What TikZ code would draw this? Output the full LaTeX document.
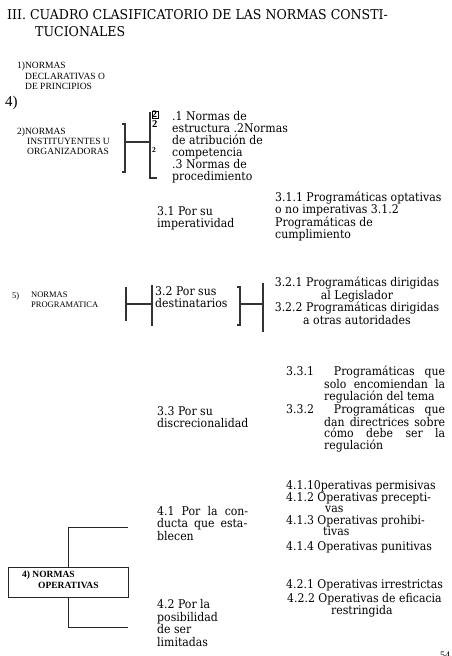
\documentclass[tikz,border=0pt]{standalone}
\usepackage{fontspec}
\newfontfamily\bodyf[FakeStretch=0.91]{DejaVu Serif}
\newfontfamily\titlef[FakeStretch=0.93]{DejaVu Serif}
\newfontfamily\timesf{Liberation Serif}
\tikzset{
  body/.style={font=\bodyf\fontsize{12}{12}\selectfont, align=left, inner sep=0pt, anchor=north west},
  line/.style={font=\bodyf\fontsize{12}{12}\selectfont, inner sep=0pt, anchor=base west},
  bodyc/.style={font=\bodyf\fontsize{12}{12.4}\selectfont, align=center, inner sep=0pt, anchor=north},
  small/.style={font=\timesf\fontsize{9.5}{10.5}\selectfont, align=left, inner sep=0pt, anchor=north west},
  ttl/.style={font=\titlef\fontsize{13.5}{17.5}\selectfont, align=left, inner sep=0pt, anchor=north west},
  brk/.style={line width=1.4pt, draw=black!80},
  conn/.style={line width=0.9pt, draw=black!85},
}
\newcommand{\spr}[2]{\makebox[#1pt][s]{#2}}
\begin{document}
\begin{tikzpicture}[x=1pt,y=-1pt]
\useasboundingbox (0,0) rectangle (451,656);
% title
\node[ttl] (title) at (7,9) {III. CUADRO CLASIFICATORIO DE LAS NORMAS CONSTI-\\\hspace*{28pt}TUCIONALES};
% 1)
\node[small] (decl) at (17,62) {1)NORMAS\\\hspace*{8pt}DECLARATIVAS O\\\hspace*{8pt}DE PRINCIPIOS};
\node[font=\timesf\fontsize{15}{15}\selectfont, inner sep=0pt, anchor=north west] (four) at (5,96) {4)};
% 2)
\node[small, font=\timesf\fontsize{9.5}{10}\selectfont] (instit) at (17,128) {2)NORMAS\\\hspace*{10pt}INSTITUYENTES U\\\hspace*{10pt}ORGANIZADORAS};
\coordinate (b1t) at (125,124); \coordinate (b1b) at (125,172);
\coordinate (b1m) at (125,142); \coordinate (b2m) at (150,142);
\coordinate (b2t) at (150,112); \coordinate (b2b) at (150,178);
\coordinate (b2e) at (157,178);
\draw[brk] ([xshift=-3pt]b1t) -- (b1t) -- (b1b) -- ([xshift=-3pt]b1b);
\draw[brk] (b1m) -- (b2m);
\draw[brk] (b2t) -- (b2b) -- (b2e);
\node[draw, inner sep=0.5pt, font=\bfseries\timesf\fontsize{10}{10}\selectfont, anchor=north west] (g1) at (151.5,110.5) {2};
\node[inner sep=0pt, font=\bfseries\timesf\fontsize{10.5}{10.5}\selectfont, anchor=north west] (g2) at (152,120) {2};
\node[inner sep=0pt, font=\bfseries\timesf\fontsize{7.5}{7.5}\selectfont, anchor=north west] (g3) at (152,147) {2};
\node[body] (sub2) at (172,111) {.1 Normas de\\estructura .2Normas\\de atribución de\\competencia\\.3 Normas de\\procedimiento};
% 3.1
\node[body] (p31) at (157,206) {3.1 Por su\\imperatividad};
\node[body] (p31x) at (275,192) {3.1.1 Programáticas optativas\\o no imperativas 3.1.2\\Programáticas de\\cumplimiento};
% 5)
\node[small, font=\timesf\fontsize{8.5}{9.5}\selectfont] (five) at (12,292) {5)};
\node[small, font=\timesf\fontsize{8.5}{9.5}\selectfont] (prog) at (31,292) {NORMAS\\PROGRAMATICA};
% 3.2 brackets
\coordinate (c1t) at (126,287); \coordinate (c1b) at (126,321);
\coordinate (c1m) at (126,304); \coordinate (c2m) at (152,304);
\coordinate (c2t) at (152,285); \coordinate (c2b) at (152,326);
\draw[brk] (c1t) -- (c1b);
\draw[brk] (c1m) -- (c2m);
\draw[brk] (c2t) -- (c2b);
\node[body] (p32) at (155,286) {3.2 Por sus\\destinatarios};
\coordinate (d1t) at (240,287); \coordinate (d1b) at (240,325);
\coordinate (d1m) at (240,304); \coordinate (d2m) at (263,304);
\coordinate (d2t) at (263,283); \coordinate (d2b) at (263,332);
\draw[brk] ([xshift=-3pt]d1t) -- (d1t) -- (d1b) -- ([xshift=-3pt]d1b);
\draw[brk] (d1m) -- (d2m);
\draw[brk] (d2t) -- (d2b);
\node[bodyc] (p32x) at (357,277) {3.2.1 Programáticas dirigidas\\al Legislador\\3.2.2 Programáticas dirigidas\\a otras autoridades};
% 3.3
\node[body] (p33) at (157,406) {3.3 Por su\\discrecionalidad};
\node[body, font=\bodyf\fontsize{12}{11.6}\selectfont] (p33x) at (286,366) {\spr{159}{3.3.1 \ Programáticas que}\\
\hspace*{38pt}\spr{121}{solo encomiendan la}\\
\hspace*{38pt}regulación del tema\\
\spr{159}{3.3.2 \ Programáticas que}\\
\hspace*{38pt}\spr{121}{dan directrices sobre}\\
\hspace*{38pt}\spr{121}{cómo debe ser la}\\
\hspace*{38pt}regulación};
% 4)
\node[body, font=\bodyf\fontsize{12}{12.5}\selectfont] (p41) at (157,506) {\spr{91}{4.1 Por la con-}\\\spr{90}{ducta que esta-}\\blecen};
\node[line] (o1) at (286,489) {4.1.10perativas permisivas};
\node[line] (o2) at (286,501.5) {4.1.2 Operativas precepti-};
\node[line] (o2b) at (325,512) {vas};
\node[line] (o3) at (286,524) {4.1.3 Operativas prohibi-};
\node[line] (o3b) at (323,535.5) {tivas};
\node[line] (o4) at (286,550) {4.1.4 Operativas punitivas};
\node[line] (o5) at (286,588) {4.2.1 Operativas irrestrictas};
\node[line] (o6) at (287,602) {4.2.2 Operativas de eficacia};
\node[line] (o6b) at (331,614) {restringida};
\node[body, font=\bodyf\fontsize{12}{12.7}\selectfont] (p42) at (157,599) {4.2 Por la\\posibilidad\\de ser\\limitadas};
% operativas box
\node[draw=black!85, line width=0.9pt, minimum width=120pt, minimum height=30pt, inner sep=0pt, anchor=north west] (opbox) at (8,567) {};
\node[font=\bfseries\timesf\fontsize{9.5}{11}\selectfont, align=left, inner sep=0pt, anchor=north west] (optxt) at (22,571) {4) NORMAS\\\hspace*{16pt}OPERATIVAS};
\coordinate (e41) at (128,527);
\coordinate (e42) at (128,627);
\draw[conn] (opbox.north) |- (e41);
\draw[conn] (opbox.south) |- (e42);
% page number (cut)
\node[font=\timesf\fontsize{10}{10}\selectfont, inner sep=0pt, anchor=north west] (pg) at (440,652) {54};
\end{tikzpicture}
\end{document}
